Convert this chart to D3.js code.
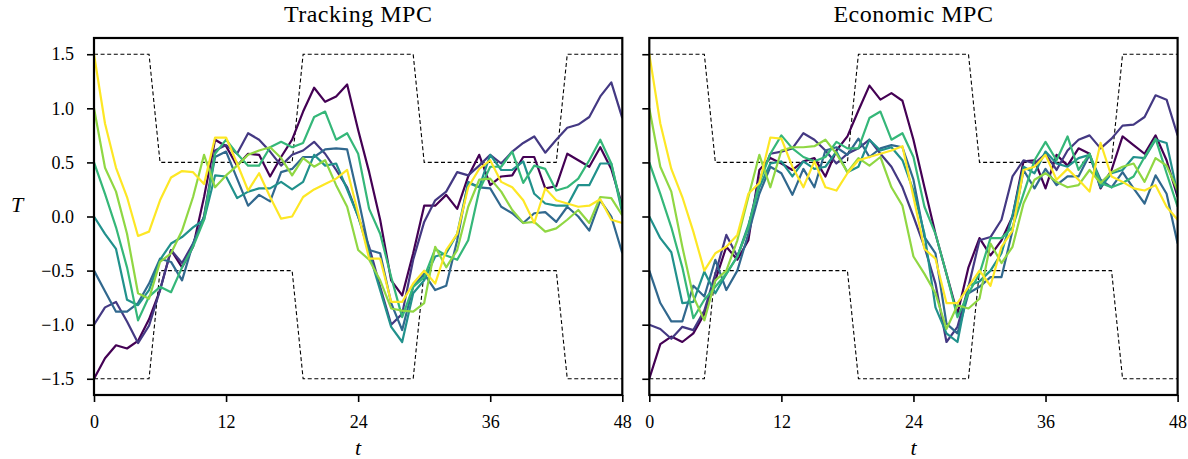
<!DOCTYPE html>
<html>
<head>
<meta charset="utf-8">
<script src="https://cdn.jsdelivr.net/npm/d3@7"></script>
<style>
  body { margin: 0; background: #fff; }
  svg text { font-family: "Liberation Serif", "DejaVu Serif", serif; fill: #000; }
</style>
</head>
<body>
<svg id="chart" width="1188" height="459"></svg>
<script>
// hours on the x axis
const hours = d3.range(0, 49)

// dashed comfort bounds
const upper = [1.5,1.5,1.5,1.5,1.5,1.5,0.5,0.5,0.5,0.5,0.5,0.5,0.5,0.5,0.5,0.5,0.5,0.5,0.5,
  1.5,1.5,1.5,1.5,1.5,1.5,1.5,1.5,1.5,1.5,1.5,0.5,0.5,0.5,0.5,0.5,0.5,0.5,0.5,0.5,0.5,0.5,0.5,0.5,
  1.5,1.5,1.5,1.5,1.5,1.5]
const lower = [-1.5,-1.5,-1.5,-1.5,-1.5,-1.5,-0.5,-0.5,-0.5,-0.5,-0.5,-0.5,-0.5,-0.5,-0.5,-0.5,-0.5,-0.5,-0.5,
  -1.5,-1.5,-1.5,-1.5,-1.5,-1.5,-1.5,-1.5,-1.5,-1.5,-1.5,-0.5,-0.5,-0.5,-0.5,-0.5,-0.5,-0.5,-0.5,-0.5,-0.5,-0.5,-0.5,-0.5,
  -1.5,-1.5,-1.5,-1.5,-1.5,-1.5]

// tracking MPC runs, one per initial state (-1.5 ... 1.5)
const tracking = [
  [-1.5,-1.31,-1.19,-1.22,-1.15,-0.95,-0.68,-0.31,-0.47,-0.28,0.18,0.71,0.65,0.47,0.58,0.57,0.37,0.55,0.71,0.97,1.19,1.06,1.11,1.22,0.80,0.41,-0.03,-0.59,-0.73,-0.34,0.10,0.10,0.20,0.07,0.37,0.57,0.29,0.37,0.38,0.55,0.55,0.26,0.28,0.58,0.52,0.46,0.64,0.44,0.10],
  [-1.0,-0.84,-0.79,-0.97,-1.17,-1.01,-0.68,-0.31,-0.43,-0.25,0.0,0.61,0.66,0.58,0.77,0.71,0.60,0.47,0.57,0.61,0.69,0.58,0.43,0.27,0.0,-0.28,-0.65,-1.0,-0.9,-0.4,-0.05,0.15,0.23,0.41,0.38,0.47,0.57,0.49,0.60,0.68,0.74,0.59,0.71,0.82,0.85,0.92,1.11,1.24,0.91],
  [-0.5,-0.69,-0.88,-0.88,-0.80,-0.62,-0.39,-0.42,-0.59,-0.25,0.0,0.55,0.60,0.35,0.10,0.20,0.14,0.41,0.44,0.55,0.55,0.62,0.63,0.62,0.17,-0.31,-0.34,-0.80,-1.05,-0.65,-0.53,-0.68,-0.64,-0.22,0.32,0.27,0.26,0.09,0.03,-0.06,0.03,0.04,-0.05,0.09,0.0,-0.13,0.15,0.0,-0.34],
  [0.0,-0.16,-0.30,-0.77,-0.82,-0.68,-0.40,-0.25,-0.19,-0.10,-0.03,0.38,0.37,0.17,0.23,0.26,0.26,0.32,0.25,0.32,0.57,0.47,0.49,0.25,0.0,-0.34,-0.68,-1.02,-1.16,-0.71,-0.59,-0.37,-0.34,-0.16,0.31,0.27,0.57,0.43,0.43,0.51,0.21,0.12,0.10,0.10,0.29,0.29,0.49,0.49,0.03],
  [0.5,0.21,-0.10,-0.47,-0.96,-0.74,-0.65,-0.70,-0.47,-0.28,-0.03,0.58,0.71,0.58,0.47,0.47,0.64,0.69,0.64,0.68,0.92,0.97,0.71,0.77,0.58,0.07,-0.16,-0.56,-0.93,-0.65,-0.56,-0.30,-0.36,-0.40,-0.22,0.24,0.46,0.46,0.60,0.31,0.47,0.44,0.24,0.27,0.35,0.52,0.71,0.49,0.06],
  [1.0,0.45,0.23,-0.16,-0.71,-0.76,-0.42,-0.34,-0.13,0.18,0.57,0.27,0.38,0.47,0.57,0.61,0.64,0.54,0.38,0.54,0.46,0.52,0.29,0.09,-0.31,-0.40,-0.59,-0.85,-0.87,-0.88,-0.80,-0.28,-0.47,-0.31,0.09,0.34,0.35,0.23,0.06,-0.06,-0.05,-0.14,-0.11,-0.03,0.06,-0.06,0.18,0.17,0.01],
  [1.5,0.86,0.45,0.18,-0.18,-0.14,0.15,0.36,0.42,0.41,0.30,0.73,0.73,0.49,0.24,0.40,0.18,-0.02,0.0,0.18,0.25,0.30,0.35,0.43,0.03,-0.39,-0.39,-0.79,-0.79,-0.62,-0.50,-0.62,-0.31,-0.16,0.27,0.44,0.52,0.32,0.27,0.15,-0.06,0.26,0.15,0.12,0.09,0.10,0.16,-0.03,-0.06]
]

// economic MPC runs, same initial states
const economic = [
  [-1.5,-1.18,-1.11,-1.16,-1.08,-0.90,-0.59,-0.28,-0.40,-0.22,0.43,0.54,0.49,0.43,0.51,0.54,0.37,0.61,0.74,0.98,1.21,1.08,1.14,1.07,0.71,0.27,-0.16,-0.53,-0.90,-0.47,-0.20,-0.36,-0.22,0.0,0.51,0.52,0.26,0.57,0.47,0.63,0.58,0.26,0.43,0.74,0.66,0.58,0.75,0.52,0.18],
  [-1.0,-1.04,-1.13,-1.02,-1.05,-0.87,-0.53,-0.17,-0.37,-0.10,0.34,0.58,0.60,0.63,0.77,0.71,0.61,0.49,0.58,0.63,0.71,0.58,0.46,0.27,0.0,-0.28,-0.62,-1.16,-1.02,-0.65,-0.22,-0.19,-0.03,0.37,0.52,0.49,0.58,0.43,0.61,0.71,0.75,0.63,0.72,0.84,0.85,0.92,1.12,1.08,0.75],
  [-0.5,-0.80,-0.97,-0.97,-0.64,-0.74,-0.40,-0.68,-0.50,-0.16,0.21,0.46,0.40,0.20,0.44,0.27,0.61,0.64,0.57,0.72,0.55,0.63,0.66,0.64,0.34,-0.19,-0.34,-0.99,-1.08,-0.71,-0.65,-0.56,-0.56,-0.13,0.43,0.26,0.44,0.29,0.37,0.37,0.57,0.34,0.27,0.41,0.26,0.12,0.38,0.21,-0.25],
  [0.0,-0.20,-0.33,-0.80,-0.79,-0.51,-0.71,-0.53,-0.37,-0.08,0.27,0.49,0.51,0.37,0.51,0.44,0.46,0.60,0.41,0.46,0.71,0.61,0.64,0.52,0.24,-0.16,-0.84,-1.08,-1.16,-0.64,-0.60,-0.50,-0.34,0.01,0.46,0.40,0.60,0.49,0.46,0.54,0.57,0.27,0.40,0.43,0.55,0.54,0.71,0.68,0.21],
  [0.5,0.21,-0.10,-0.47,-0.94,-0.77,-0.65,-0.53,-0.37,-0.10,0.31,0.58,0.75,0.63,0.55,0.51,0.55,0.69,0.63,0.63,0.91,0.97,0.71,0.77,0.55,0.09,-0.16,-0.53,-0.93,-0.71,-0.53,-0.20,-0.20,-0.10,0.21,0.52,0.69,0.52,0.74,0.43,0.58,0.31,0.27,0.31,0.37,0.55,0.72,0.40,0.09],
  [1.0,0.46,0.23,-0.28,-0.74,-0.96,-0.59,-0.50,-0.22,0.18,0.57,0.27,0.61,0.64,0.64,0.65,0.71,0.58,0.41,0.54,0.47,0.55,0.27,0.10,-0.37,-0.53,-0.71,-1.04,-0.82,-0.85,-0.76,-0.25,-0.43,-0.28,0.12,0.34,0.40,0.32,0.27,0.29,0.43,0.31,0.41,0.46,0.49,0.32,0.54,0.47,0.24],
  [1.5,0.86,0.44,0.18,-0.14,-0.50,-0.34,-0.28,-0.17,0.21,0.31,0.73,0.72,0.46,0.27,0.51,0.27,0.24,0.40,0.52,0.55,0.58,0.61,0.65,0.18,-0.30,-0.39,-0.80,-0.80,-0.65,-0.50,-0.64,-0.28,-0.13,0.43,0.46,0.57,0.34,0.44,0.34,0.23,0.68,0.37,0.32,0.26,0.24,0.29,0.09,-0.03]
]

const titles = ["Tracking MPC", "Economic MPC"]
const xTicks = [0, 12, 24, 36, 48]
const yTicks = [-1.5, -1.0, -0.5, 0.0, 0.5, 1.0, 1.5]

const svg = d3.select("#chart")
const plotTop = 38, plotBottom = 395
const panels = [
  { title: titles[0], runs: tracking, left: 94, right: 622.3, yLabels: true },
  { title: titles[1], runs: economic, left: 649.3, right: 1177.6, yLabels: false }
]

const y = d3.scaleLinear().domain([-1.65, 1.65]).range([plotBottom, plotTop])
const color = i => d3.interpolateViridis(i / 6)
const fmt = d => d3.format(".1f")(d).replace("-", "\u2212")

panels.forEach((p, pi) => {
  const x = d3.scaleLinear().domain([0, 48]).range([p.left, p.right])
  const g = svg.append("g")

  g.append("clipPath").attr("id", "clip" + pi)
    .append("rect")
    .attr("x", p.left).attr("y", plotTop)
    .attr("width", p.right - p.left).attr("height", plotBottom - plotTop)

  const line = d3.line().x((d, i) => x(hours[i])).y(d => y(d))

  // bounds
  const plot = g.append("g").attr("clip-path", `url(#clip${pi})`)
  plot.selectAll(".bound")
      .data([upper, lower])
      .enter().append("path")
      .attr("d", line)
      .attr("fill", "none")
      .attr("stroke", "#000")
      .attr("stroke-width", 1.1)
      .attr("stroke-dasharray", "4,2.6")

  plot.selectAll(".run")
      .data(p.runs)
      .enter().append("path")
      .attr("d", line)
      .attr("fill", "none")
      .attr("stroke", (d, i) => color(i))
      .attr("stroke-width", 2.2)
      .attr("stroke-linejoin", "round")

  // axes
  const xAxis = g.append("g")
      .attr("transform", `translate(0,${plotBottom})`)
      .call(d3.axisBottom(x).tickValues(xTicks).tickSize(7).tickPadding(13).tickFormat(d3.format("d")))
  const yAxis = g.append("g")
      .attr("transform", `translate(${p.left},0)`)
      .call(d3.axisLeft(y).tickValues(yTicks).tickSize(7).tickPadding(13)
        .tickFormat(p.yLabels ? fmt : () => ""))

  ;[xAxis, yAxis].forEach(a => {
    a.attr("font-family", null).attr("font-size", null)
    a.select(".domain").remove()
    a.selectAll("line").attr("stroke", "#000").attr("stroke-width", 1.6)
    a.selectAll("text")
      .style("font-family", "'Liberation Serif', serif")
      .style("font-size", "18px")
      .style("fill", "#000")
  })

  // frame
  g.append("rect")
      .attr("x", p.left).attr("y", plotTop)
      .attr("width", p.right - p.left).attr("height", plotBottom - plotTop)
      .attr("fill", "none")
      .attr("stroke", "#000")
      .attr("stroke-width", 2.2)

  g.append("text")
      .attr("x", (p.left + p.right) / 2)
      .attr("y", 22)
      .attr("text-anchor", "middle")
      .style("font-size", "24px")
      .attr("letter-spacing", 0.5)
      .text(p.title)

  g.append("text")
      .attr("x", (p.left + p.right) / 2)
      .attr("y", 455)
      .attr("text-anchor", "middle")
      .style("font-size", "22px")
      .style("font-style", "italic")
      .text("t")
})

svg.append("text")
    .attr("x", 17)
    .attr("y", 212)
    .attr("text-anchor", "middle")
    .style("font-size", "22px")
    .style("font-style", "italic")
    .text("T")
</script>
</body>
</html>
